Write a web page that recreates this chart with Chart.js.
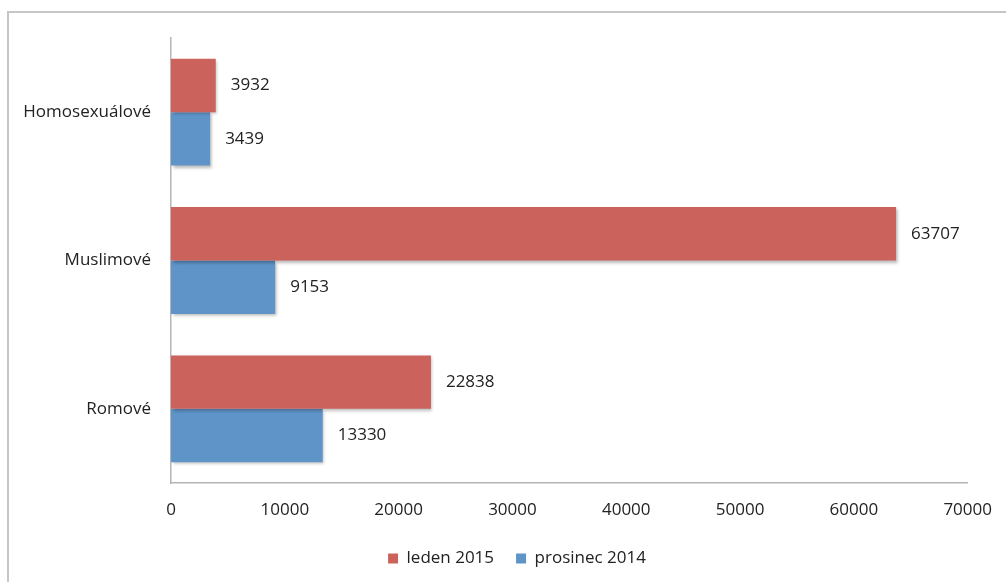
<!DOCTYPE html>
<html>
<head>
<meta charset="utf-8">
<script src="https://cdn.jsdelivr.net/npm/chart.js@4/dist/chart.umd.min.js"></script>
<style>
  html, body { margin: 0; padding: 0; background: #fff; }
  #wrap { position: relative; width: 1006px; height: 582px; overflow: hidden; }
  #frame { position: absolute; left: 7px; top: 11px; right: -10px; bottom: -10px;
           border-left: 2px solid #c6c6c6; border-top: 2px solid #c6c6c6; }
  canvas { position: absolute; left: 0; top: 0; }
</style>
</head>
<body>
<div id="wrap">
  <div id="frame"></div>
  <canvas id="myChart" width="1006" height="582"></canvas>
</div>
<script>
// categories and values
const categories = ["Homosexuálové", "Muslimové", "Romové"];
const seriesNames = ["leden 2015", "prosinec 2014"];
const leden2015 = [3932, 63707, 22838];
const prosinec2014 = [3439, 9153, 13330];
const xTicks = [0, 10000, 20000, 30000, 40000, 50000, 60000, 70000];

const textColor = "#222222";
const fontFamily = "'Open Sans', sans-serif";

// bar shadows like the office chart
const shadowPlugin = {
  id: "barShadow",
  beforeDatasetsDraw(chart) {
    const ctx = chart.ctx;
    ctx.save();
    ctx.shadowColor = "rgba(0,0,0,0.28)";
    ctx.shadowBlur = 3;
    ctx.shadowOffsetX = 1.5;
    ctx.shadowOffsetY = 2;
  },
  afterDatasetsDraw(chart) {
    chart.ctx.restore();
  }
};

// value labels to the right of each bar
const valueLabels = {
  id: "valueLabels",
  afterDatasetsDraw(chart) {
    const ctx = chart.ctx;
    ctx.save();
    ctx.font = "17px " + fontFamily;
    ctx.fillStyle = textColor;
    ctx.textAlign = "left";
    ctx.textBaseline = "middle";
    chart.data.datasets.forEach((ds, i) => {
      chart.getDatasetMeta(i).data.forEach((bar, j) => {
        ctx.fillText(String(ds.data[j]), bar.x + 15, bar.y);
      });
    });
    ctx.restore();
  }
};

// the legend in the original sits a bit right of the centre
const legendShift = {
  id: "legendShift",
  afterLayout(chart) {
    chart.legend.left += 30;
    chart.legend.right += 30;
  }
};

const ctx = document.getElementById("myChart").getContext("2d");
new Chart(ctx, {
  type: "bar",
  data: {
    labels: categories,
    datasets: [
      { label: seriesNames[0], data: leden2015, backgroundColor: "#cc625c" },
      { label: seriesNames[1], data: prosinec2014, backgroundColor: "#5f94c9" }
    ]
  },
  options: {
    indexAxis: "y",
    responsive: false,
    animation: false,
    categoryPercentage: 0.72,
    barPercentage: 1,
    layout: { padding: { top: 38, right: 32, left: 0, bottom: 5 } },
    scales: {
      x: {
        min: 0,
        max: 70000,
        afterBuildTicks(scale) {
          scale.ticks = xTicks.map(v => ({ value: v }));
        },
        afterFit(scale) { scale.height = 45; },
        grid: { display: false, drawTicks: true, tickLength: 3 },
        border: { display: true, color: "#b5b5b5", width: 1.5 },
        ticks: {
          color: textColor,
          font: { size: 17, family: fontFamily },
          padding: 14,
          maxRotation: 0,
          callback: v => String(v)
        }
      },
      y: {
        afterFit(scale) { scale.width = 171; },
        grid: { display: false, drawTicks: false },
        border: { display: true, color: "#b5b5b5", width: 1.5 },
        ticks: { color: textColor, font: { size: 17, family: fontFamily }, padding: 20 }
      }
    },
    plugins: {
      legend: {
        position: "bottom",
        labels: {
          boxWidth: 10,
          boxHeight: 10,
          padding: 22,
          color: textColor,
          font: { size: 17, family: fontFamily }
        }
      },
      tooltip: { enabled: false }
    }
  },
  plugins: [shadowPlugin, valueLabels, legendShift]
});
</script>
</body>
</html>
